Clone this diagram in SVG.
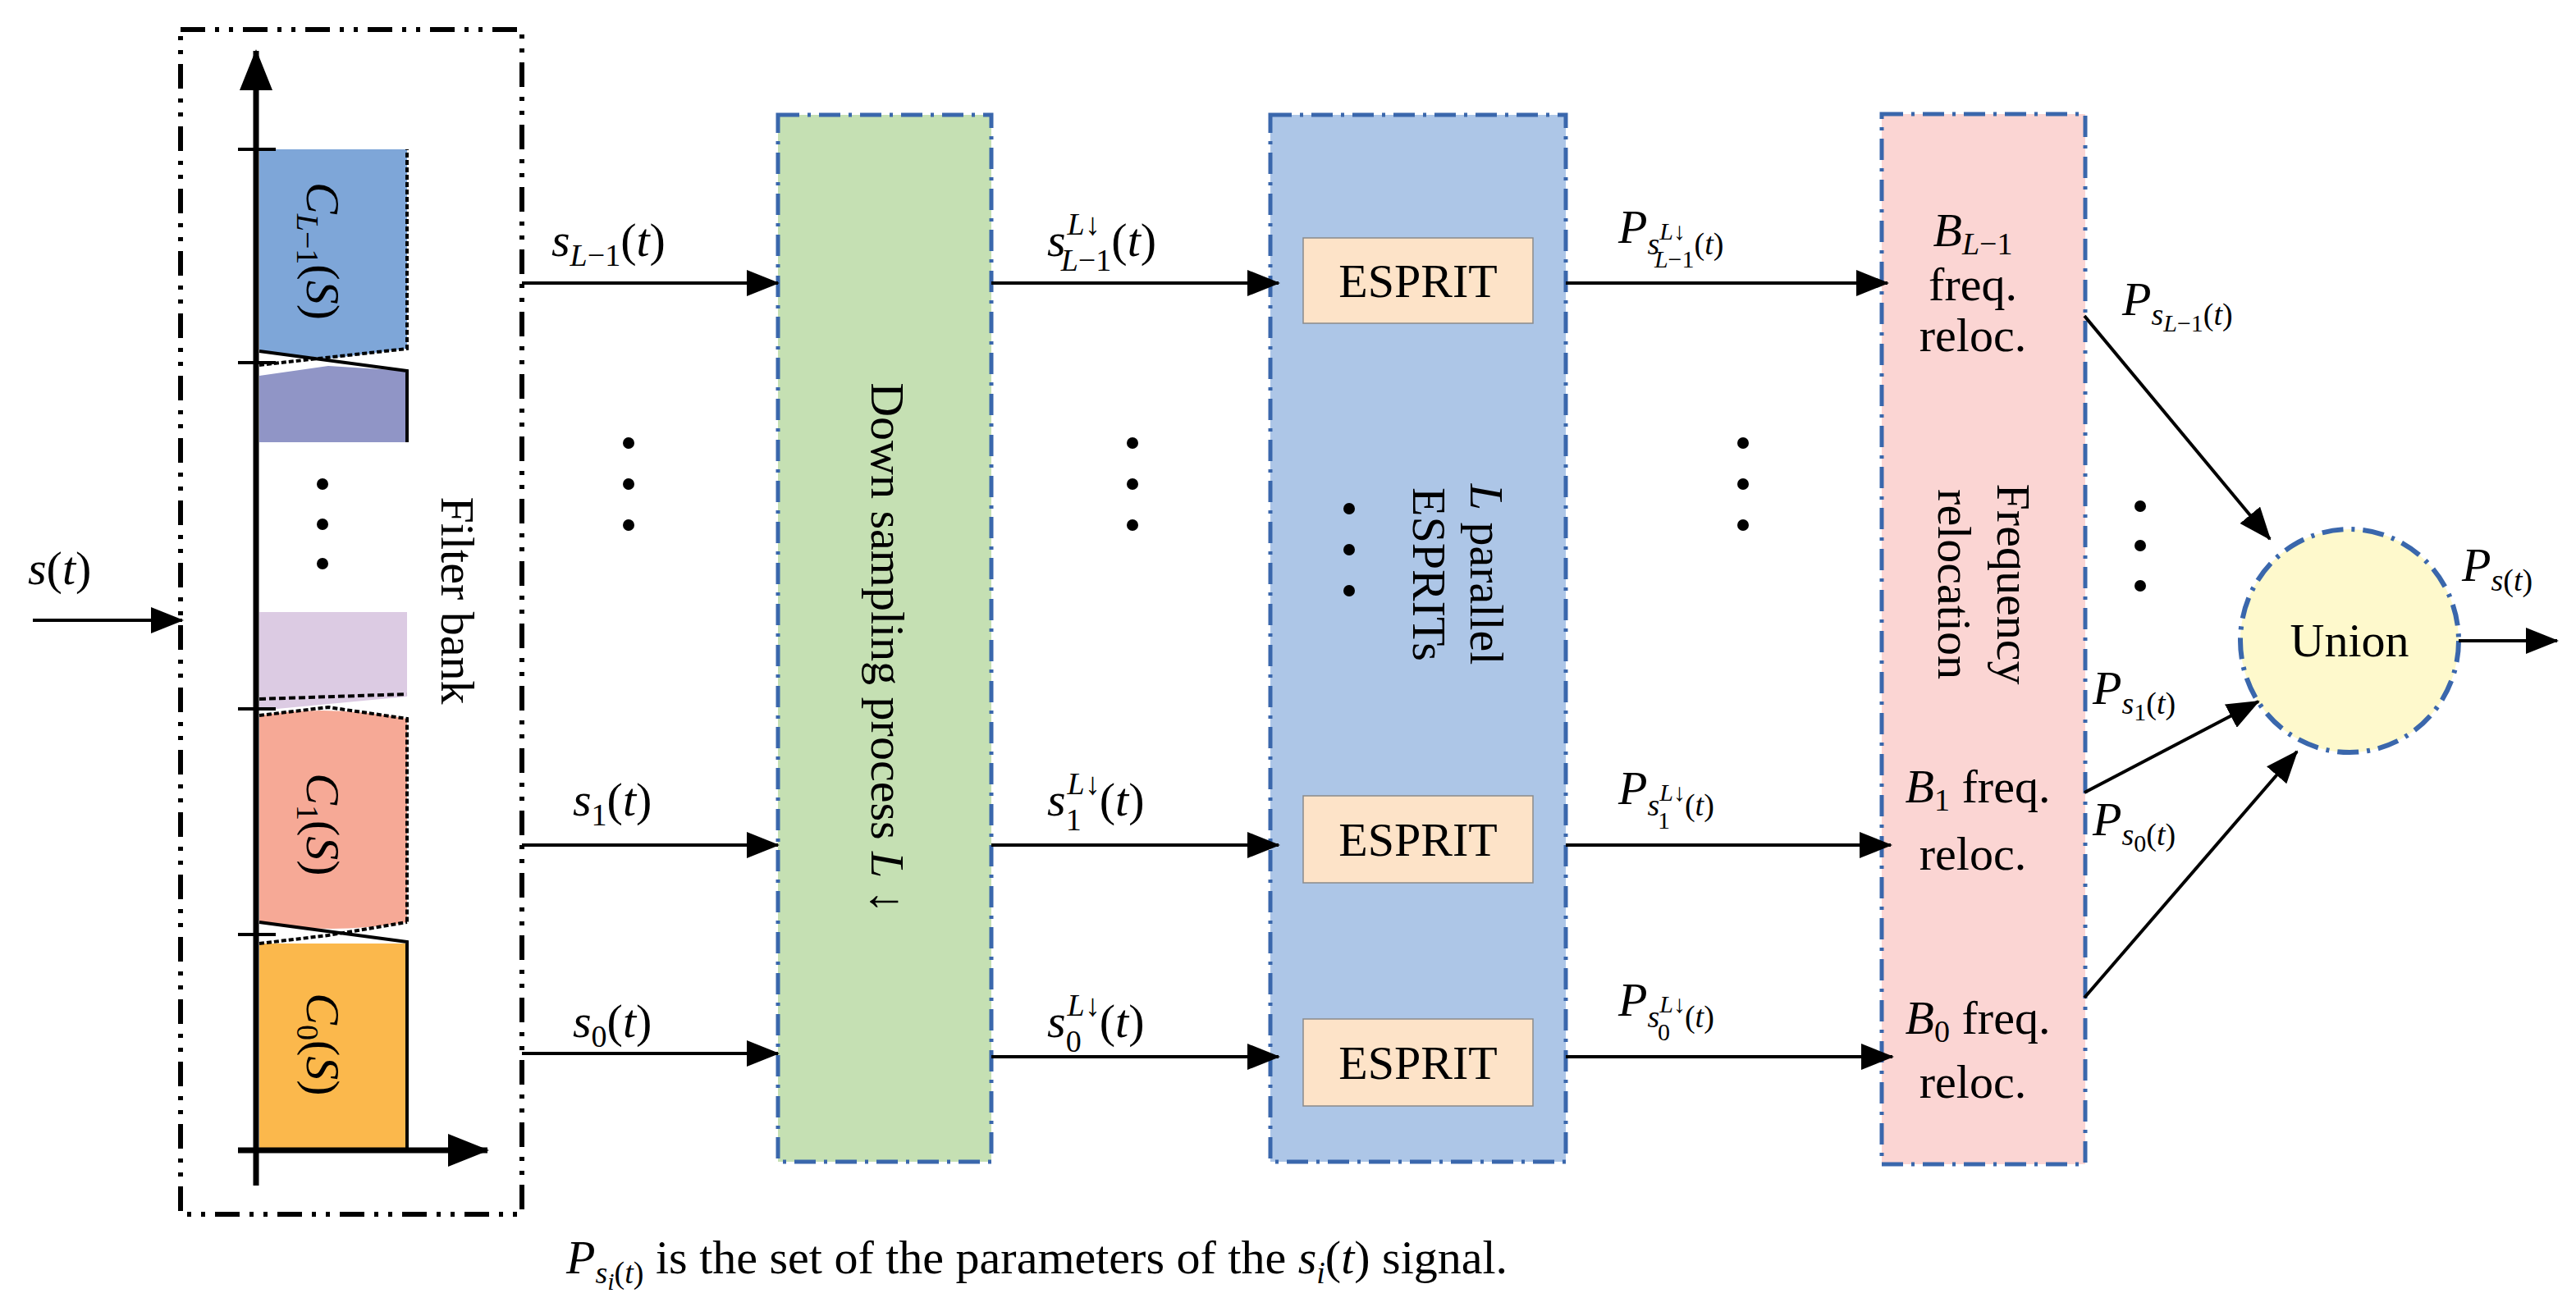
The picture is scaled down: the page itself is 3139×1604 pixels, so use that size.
<svg xmlns="http://www.w3.org/2000/svg" width="3139" height="1604" viewBox="0 0 3139 1604">
<style>
text{font-family:"Liberation Serif","Times New Roman",serif;font-size:58px;fill:#000}
.m{font-style:italic}
.sub{font-size:38px}
.ss{font-size:30px}
.ln{stroke:#000;stroke-width:4;fill:none}
.ax{stroke:#000;stroke-width:7;fill:none}
.bx{stroke:#3a67ac;stroke-width:5;stroke-dasharray:26 10 4 10}
.dot{fill:#000}
</style>
<defs>
<marker id="ah" markerUnits="userSpaceOnUse" markerWidth="40" markerHeight="32" refX="38" refY="16" orient="auto"><path d="M0,0 L40,16 L0,32 Z" fill="#000"/></marker>
<marker id="ahb" markerUnits="userSpaceOnUse" markerWidth="50" markerHeight="40" refX="48" refY="20" orient="auto"><path d="M0,0 L50,20 L0,40 Z" fill="#000"/></marker>
</defs>

<g id="filterbank">
<rect x="220" y="36" width="416" height="1444" fill="none" stroke="#000" stroke-width="6" stroke-dasharray="30 12 5 12 5 12"/>
<polygon points="316,182 496,182 496,425 400,437 316,428" fill="#7ea6d8"/>
<polygon points="316,458 400,446 496,452 496,539 316,539" fill="#9095c6"/>
<polyline points="316,428 496,452 496,539" class="ln" stroke-width="5"/>
<polyline points="316,445 496,425 496,182" class="ln" stroke-dasharray="6 3"/>
<polygon points="316,746 496,746 496,849 316,866" fill="#dccbe3"/>
<path d="M316,872 Q400,858 496,876 L496,1124 Q400,1140 316,1124 Z" fill="#f6a996"/>
<polyline points="316,852 496,846" class="ln" stroke-dasharray="8 4"/>
<polyline points="316,872 400,862 496,876 496,1124" class="ln" stroke-dasharray="6 3"/>
<polygon points="316,1150 496,1150 496,1402 316,1402" fill="#fbb84c"/>
<polyline points="316,1124 496,1148 496,1402" class="ln" stroke-width="5"/>
<polyline points="316,1150 400,1140 496,1124" class="ln" stroke-dasharray="6 3"/>
<g class="ln" stroke-width="3"><line x1="290" y1="182" x2="336" y2="182"/><line x1="290" y1="442" x2="336" y2="442"/><line x1="290" y1="864" x2="336" y2="864"/><line x1="290" y1="1139" x2="336" y2="1139"/></g>
<line x1="312" y1="1445" x2="312" y2="62" class="ax" marker-end="url(#ahb)"/>
<line x1="290" y1="1402" x2="594" y2="1402" class="ax" marker-end="url(#ahb)"/>
<circle cx="393" cy="590" r="7" class="dot"/><circle cx="393" cy="639" r="7" class="dot"/><circle cx="393" cy="687" r="7" class="dot"/>
<text transform="translate(374,306) rotate(90)" text-anchor="middle" font-size="62"><tspan class="m">C</tspan><tspan class="m sub" dy="12">L</tspan><tspan class="sub" dy="0">−1</tspan><tspan dy="-12">(</tspan><tspan class="m">S</tspan>)</text>
<text transform="translate(374,1005) rotate(90)" text-anchor="middle" font-size="62"><tspan class="m">C</tspan><tspan class="sub" dy="12">1</tspan><tspan dy="-12">(</tspan><tspan class="m">S</tspan>)</text>
<text transform="translate(374,1273) rotate(90)" text-anchor="middle" font-size="62"><tspan class="m">C</tspan><tspan class="sub" dy="12">0</tspan><tspan dy="-12">(</tspan><tspan class="m">S</tspan>)</text>
<text transform="translate(538,732) rotate(90)" text-anchor="middle" font-size="60">Filter bank</text>
</g>

<g id="downsampling">
<rect x="948" y="140" width="260" height="1276" fill="#c5e0b3" class="bx"/>
<text transform="translate(1062,790) rotate(90)" text-anchor="middle">Down sampling process <tspan class="m">L</tspan> ↓</text>
</g>

<g id="esprits">
<rect x="1548" y="140" width="360" height="1276" fill="#adc6e7" class="bx"/>
<rect x="1588" y="290" width="280" height="104" fill="#fde3c8" stroke="#8a8a8a" stroke-width="1.5"/>
<text x="1728" y="362" text-anchor="middle">ESPRIT</text>
<rect x="1588" y="970" width="280" height="106" fill="#fde3c8" stroke="#8a8a8a" stroke-width="1.5"/>
<text x="1728" y="1043" text-anchor="middle">ESPRIT</text>
<rect x="1588" y="1242" width="280" height="106" fill="#fde3c8" stroke="#8a8a8a" stroke-width="1.5"/>
<text x="1728" y="1315" text-anchor="middle">ESPRIT</text>
<text transform="translate(1792,700) rotate(90)" text-anchor="middle"><tspan class="m">L</tspan> parallel</text>
<text transform="translate(1722,700) rotate(90)" text-anchor="middle">ESPRITs</text>
<circle cx="1644" cy="620" r="7" class="dot"/><circle cx="1644" cy="670" r="7" class="dot"/><circle cx="1644" cy="720" r="7" class="dot"/>
</g>

<g id="freqreloc">
<rect x="2293" y="139" width="248" height="1280" fill="#fbd5d3" class="bx"/>
<text x="2404" y="300" text-anchor="middle"><tspan class="m">B</tspan><tspan class="m sub" dy="10">L</tspan><tspan class="sub">−1</tspan></text>
<text x="2404" y="366" text-anchor="middle">freq.</text>
<text x="2404" y="428" text-anchor="middle">reloc.</text>
<text transform="translate(2434,712) rotate(90)" text-anchor="middle">Frequency</text>
<text transform="translate(2362,712) rotate(90)" text-anchor="middle">relocation</text>
<text x="2410" y="978" text-anchor="middle"><tspan class="m">B</tspan><tspan class="sub" dy="10">1</tspan><tspan dy="-10"> freq.</tspan></text>
<text x="2404" y="1060" text-anchor="middle">reloc.</text>
<text x="2410" y="1260" text-anchor="middle"><tspan class="m">B</tspan><tspan class="sub" dy="10">0</tspan><tspan dy="-10"> freq.</tspan></text>
<text x="2404" y="1338" text-anchor="middle">reloc.</text>
</g>

<g id="union">
<ellipse cx="2863" cy="781" rx="133" ry="136" fill="#fef9cc" stroke="#3a67ac" stroke-width="6" stroke-dasharray="26 10 4 10"/>
<text x="2863" y="800" text-anchor="middle">Union</text>
</g>

<g id="connectors">
<line x1="40" y1="756" x2="222" y2="756" class="ln" marker-end="url(#ah)"/>
<line x1="636" y1="345" x2="948" y2="345" class="ln" marker-end="url(#ah)"/>
<line x1="636" y1="1030" x2="948" y2="1030" class="ln" marker-end="url(#ah)"/>
<line x1="636" y1="1284" x2="948" y2="1284" class="ln" marker-end="url(#ah)"/>
<line x1="1208" y1="345" x2="1558" y2="345" class="ln" marker-end="url(#ah)"/>
<line x1="1208" y1="1030" x2="1558" y2="1030" class="ln" marker-end="url(#ah)"/>
<line x1="1208" y1="1288" x2="1558" y2="1288" class="ln" marker-end="url(#ah)"/>
<line x1="1908" y1="345" x2="2300" y2="345" class="ln" marker-end="url(#ah)"/>
<line x1="1908" y1="1030" x2="2304" y2="1030" class="ln" marker-end="url(#ah)"/>
<line x1="1908" y1="1288" x2="2306" y2="1288" class="ln" marker-end="url(#ah)"/>
<line x1="2540" y1="385" x2="2766" y2="657" class="ln" marker-end="url(#ah)"/>
<line x1="2540" y1="966" x2="2752" y2="855" class="ln" marker-end="url(#ah)"/>
<line x1="2540" y1="1216" x2="2799" y2="916" class="ln" marker-end="url(#ah)"/>
<line x1="2996" y1="781" x2="3116" y2="781" class="ln" marker-end="url(#ah)"/>
</g>

<g id="labels">
<text x="34" y="712" class="m">s<tspan font-style="normal">(</tspan>t<tspan font-style="normal">)</tspan></text>
<text x="672" y="312"><tspan class="m">s</tspan><tspan class="m sub" dy="12">L</tspan><tspan class="sub">−1</tspan><tspan dy="-12">(</tspan><tspan class="m">t</tspan>)</text>
<text x="698" y="994"><tspan class="m">s</tspan><tspan class="sub" dy="12">1</tspan><tspan dy="-12">(</tspan><tspan class="m">t</tspan>)</text>
<text x="698" y="1264"><tspan class="m">s</tspan><tspan class="sub" dy="12">0</tspan><tspan dy="-12">(</tspan><tspan class="m">t</tspan>)</text>
<circle cx="766" cy="540" r="7" class="dot"/><circle cx="766" cy="590" r="7" class="dot"/><circle cx="766" cy="640" r="7" class="dot"/>
<circle cx="1380" cy="540" r="7" class="dot"/><circle cx="1380" cy="590" r="7" class="dot"/><circle cx="1380" cy="640" r="7" class="dot"/>
<circle cx="2124" cy="540" r="7" class="dot"/><circle cx="2124" cy="590" r="7" class="dot"/><circle cx="2124" cy="640" r="7" class="dot"/>
<circle cx="2608" cy="617" r="7" class="dot"/><circle cx="2608" cy="665" r="7" class="dot"/><circle cx="2608" cy="714" r="7" class="dot"/>

<text x="1276" y="312"><tspan class="m">s</tspan><tspan class="m sub" dx="2" dy="-26">L</tspan><tspan class="sub">↓</tspan><tspan class="m sub" dx="-48" dy="44">L</tspan><tspan class="sub">−1</tspan><tspan dy="-18">(</tspan><tspan class="m">t</tspan>)</text>
<text x="1276" y="994"><tspan class="m">s</tspan><tspan class="m sub" dx="2" dy="-26">L</tspan><tspan class="sub">↓</tspan><tspan class="sub" dx="-42" dy="44">1</tspan><tspan dx="22" dy="-18">(</tspan><tspan class="m">t</tspan>)</text>
<text x="1276" y="1264"><tspan class="m">s</tspan><tspan class="m sub" dx="2" dy="-26">L</tspan><tspan class="sub">↓</tspan><tspan class="sub" dx="-42" dy="44">0</tspan><tspan dx="22" dy="-18">(</tspan><tspan class="m">t</tspan>)</text>

<text x="1972" y="296"><tspan class="m">P</tspan><tspan class="m sub" dy="14">s</tspan><tspan class="m ss" dy="-18">L</tspan><tspan class="ss">↓</tspan><tspan class="m ss" dx="-38" dy="34">L</tspan><tspan class="ss">−1</tspan><tspan class="sub" dy="-16">(</tspan><tspan class="m sub">t</tspan><tspan class="sub">)</tspan></text>
<text x="1972" y="980"><tspan class="m">P</tspan><tspan class="m sub" dy="14">s</tspan><tspan class="m ss" dy="-18">L</tspan><tspan class="ss">↓</tspan><tspan class="ss" dx="-34" dy="34">1</tspan><tspan class="sub" dx="18" dy="-16">(</tspan><tspan class="m sub">t</tspan><tspan class="sub">)</tspan></text>
<text x="1972" y="1238"><tspan class="m">P</tspan><tspan class="m sub" dy="14">s</tspan><tspan class="m ss" dy="-18">L</tspan><tspan class="ss">↓</tspan><tspan class="ss" dx="-34" dy="34">0</tspan><tspan class="sub" dx="18" dy="-16">(</tspan><tspan class="m sub">t</tspan><tspan class="sub">)</tspan></text>

<text x="2586" y="384"><tspan class="m">P</tspan><tspan class="m sub" dy="12">s</tspan><tspan class="m ss" dy="8">L</tspan><tspan class="ss">−1</tspan><tspan class="sub" dy="-8">(</tspan><tspan class="m sub">t</tspan><tspan class="sub">)</tspan></text>
<text x="2550" y="858"><tspan class="m">P</tspan><tspan class="m sub" dy="12">s</tspan><tspan class="ss" dy="8">1</tspan><tspan class="sub" dy="-8">(</tspan><tspan class="m sub">t</tspan><tspan class="sub">)</tspan></text>
<text x="2550" y="1018"><tspan class="m">P</tspan><tspan class="m sub" dy="12">s</tspan><tspan class="ss" dy="8">0</tspan><tspan class="sub" dy="-8">(</tspan><tspan class="m sub">t</tspan><tspan class="sub">)</tspan></text>
<text x="3000" y="708"><tspan class="m">P</tspan><tspan class="m sub" dy="12">s</tspan><tspan class="sub">(</tspan><tspan class="m sub">t</tspan><tspan class="sub">)</tspan></text>

<text x="690" y="1552"><tspan class="m">P</tspan><tspan class="m sub" dy="12">s</tspan><tspan class="m ss" dy="8">i</tspan><tspan class="sub" dy="-8">(</tspan><tspan class="m sub">t</tspan><tspan class="sub">)</tspan><tspan dy="-12"> is the set of the parameters of the </tspan><tspan class="m">s</tspan><tspan class="m sub" dy="12">i</tspan><tspan dy="-12">(</tspan><tspan class="m">t</tspan>) signal.</text>
</g>
</svg>
